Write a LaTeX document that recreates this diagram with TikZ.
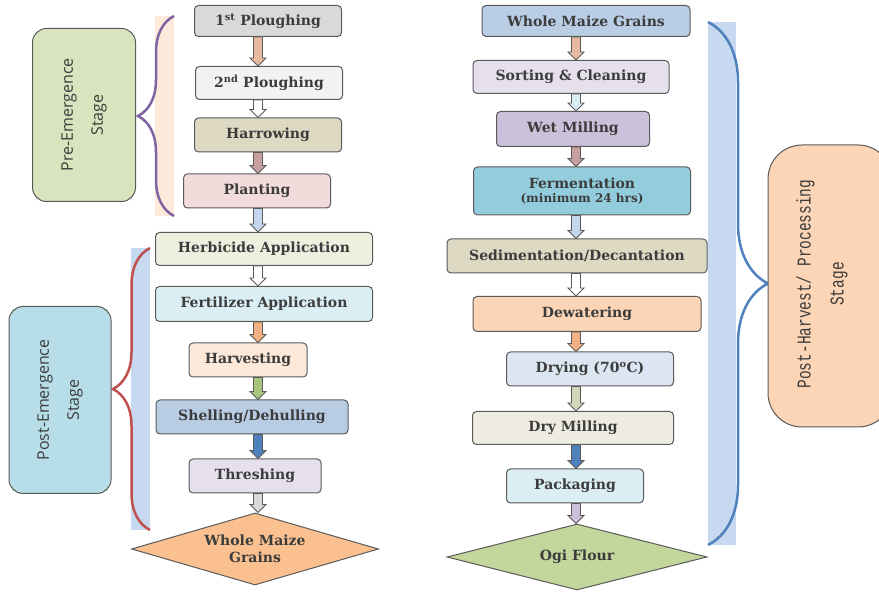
\documentclass[tikz,border=0pt]{standalone}
\usepackage{fontspec}
\setmainfont{DejaVu Serif}
\newfontfamily\stagefont{Open Sans}
\newfontfamily\harvestfont{Liberation Mono}
\usetikzlibrary{shapes.geometric,decorations.pathreplacing,calc}
\definecolor{textgray}{RGB}{60,60,60}
\definecolor{edgegray}{RGB}{90,90,90}
\definecolor{bxgray}{RGB}{217,217,217}
\definecolor{bxwhite}{RGB}{242,242,242}
\definecolor{bxkhaki}{RGB}{221,217,195}
\definecolor{bxpink}{RGB}{242,220,219}
\definecolor{bxlime}{RGB}{235,241,222}
\definecolor{bxaqua}{RGB}{219,238,244}
\definecolor{bxpeach}{RGB}{253,233,217}
\definecolor{bxblue}{RGB}{184,204,228}
\definecolor{bxlilac}{RGB}{229,224,236}
\definecolor{bxorange}{RGB}{250,192,144}
\definecolor{bxsky}{RGB}{185,205,229}
\definecolor{bxpurple}{RGB}{204,193,218}
\definecolor{bxcyan}{RGB}{147,205,221}
\definecolor{bxsalmon}{RGB}{251,213,181}
\definecolor{bxice}{RGB}{220,230,242}
\definecolor{bxbeige}{RGB}{238,236,225}
\definecolor{bxgreen}{RGB}{195,214,155}
\definecolor{stgreen}{RGB}{215,228,189}
\definecolor{stblue}{RGB}{183,221,232}
\definecolor{bracepurple}{RGB}{128,100,162}
\definecolor{bracered}{RGB}{192,80,77}
\definecolor{braceblue}{RGB}{79,129,189}
\definecolor{bandpeach}{RGB}{253,234,218}
\definecolor{bandblue}{RGB}{198,217,241}
\definecolor{artan}{RGB}{230,185,160}
\definecolor{armauve}{RGB}{200,160,160}
\definecolor{arsky}{RGB}{197,213,238}
\definecolor{arorange}{RGB}{244,177,131}
\definecolor{argreen}{RGB}{169,196,127}
\definecolor{arblue}{RGB}{79,129,189}
\definecolor{argray}{RGB}{217,217,217}
\definecolor{arolive}{RGB}{210,214,185}

% hollow block arrow from one box down to the next, on a column coordinate
\newcommand{\flowarrow}[4]{%
  \draw[arrowline, fill=#1] let \p1=(#2.south -| #4), \p2=(#3.north -| #4) in
    (\x1-4.5pt,\y1) -- (\x1+4.5pt,\y1) -- (\x1+4.5pt,\y2+8pt) -- (\x1+8pt,\y2+8pt)
    -- (\x1,\y2) -- (\x1-8pt,\y2+8pt) -- (\x1-4.5pt,\y2+8pt) -- cycle;}
% taller monospace lettering for the processing label
\newcommand{\tallmono}[1]{\scalebox{1}[1.35]{#1}}

\begin{document}
\begin{tikzpicture}[
        x=1pt, y=-1pt,
        stepbox/.style={rectangle, rounded corners=4pt, draw=edgegray, line width=1pt,
          inner sep=0pt, text=textgray, font=\fontsize{14}{16}\selectfont\bfseries, align=center},
        outcome/.style={diamond, draw=edgegray, line width=1pt, inner sep=0pt,
          text=textgray, font=\fontsize{14}{17}\selectfont\bfseries, align=center},
        stagebox/.style={rectangle, rounded corners=14pt, draw=edgegray, line width=1pt,
          rotate=90, align=center, text=textgray, font=\stagefont\fontsize{16}{30}\selectfont},
        stagebrace/.style={decorate, decoration={brace, amplitude=#1}, line width=2.5pt},
        arrowline/.style={draw=edgegray, line width=0.8pt, line join=miter}
      ]
      \useasboundingbox (0,0) rectangle (879,593);

      % Bands behind the braces
      \fill[bandpeach] (155,16) rectangle (174,216);
      \fill[bandblue] (131,248) rectangle (150,530);
      \fill[bandblue] (708,22) rectangle (736,545);

      % Braces
      \draw[stagebrace=36pt, draw=bracepurple] (174,216) -- (174,16);
      \draw[stagebrace=37pt, draw=bracered] (150,530) -- (150,248);
      \draw[stagebrace=60pt, draw=braceblue] (708,22) -- (708,545);

      % Stage labels
      \node[stagebox, fill=stgreen, minimum width=173, minimum height=103] (pre) at (84,115) {Pre-Emergence\\Stage};
      \node[stagebox, fill=stblue, minimum width=187, minimum height=102] (post) at (60,400) {Post-Emergence\\Stage};
      \node[stagebox, fill=bxsalmon, rounded corners=34pt, minimum width=282, minimum height=124] (process) at (830,286) {};
      \node[rotate=90, align=center, text=textgray, font=\harvestfont\fontsize{14.5}{33}\selectfont]
            (processtext) at (822,284) {\tallmono{Post-Harvest/ Processing}\\\tallmono{Stage}};

      % Columns for the arrows
      \coordinate (colL) at (258,0);
      \coordinate (colR) at (576,0);

      % Field stages (left column)
      \node[stepbox, fill=bxgray, minimum width=147, minimum height=31] (plough1) at (268,21) {1\textsuperscript{st} Ploughing};
      \node[stepbox, fill=bxwhite, minimum width=147, minimum height=33] (plough2) at (269,83) {2\textsuperscript{nd} Ploughing};
      \node[stepbox, fill=bxkhaki, minimum width=147, minimum height=34] (harrow) at (268,135) {Harrowing};
      \node[stepbox, fill=bxpink, minimum width=147, minimum height=34] (plant) at (257,191) {Planting};
      \node[stepbox, fill=bxlime, minimum width=217, minimum height=33] (herb) at (264,249) {Herbicide Application};
      \node[stepbox, fill=bxaqua, minimum width=217, minimum height=35] (fert) at (264,304) {Fertilizer Application};
      \node[stepbox, fill=bxpeach, minimum width=118, minimum height=34] (harvest) at (248,360) {Harvesting};
      \node[stepbox, fill=bxblue, minimum width=192, minimum height=34] (shell) at (252,417) {Shelling/Dehulling};
      \node[stepbox, fill=bxlilac, minimum width=132, minimum height=34] (thresh) at (255,476) {Threshing};
      \node[outcome, fill=bxorange, aspect=3.4, minimum width=247, minimum height=72] (grains) at (255,549) {Whole Maize\\Grains};

      % Processing stages (right column)
      \node[stepbox, fill=bxsky, minimum width=208, minimum height=31] (whole) at (586,21) {Whole Maize Grains};
      \node[stepbox, fill=bxlilac, minimum width=196, minimum height=33] (sort) at (571,77) {Sorting \& Cleaning};
      \node[stepbox, fill=bxpurple, minimum width=153, minimum height=35] (wetmill) at (573,129) {Wet Milling};
      \node[stepbox, fill=bxcyan, minimum width=217, minimum height=48] (ferment) at (582,191)
            {Fermentation\\[-2pt]{\fontsize{12}{14}\selectfont (minimum 24 hrs)}};
      \node[stepbox, fill=bxkhaki, minimum width=260, minimum height=34] (sediment) at (577,256) {Sedimentation/Decantation};
      \node[stepbox, fill=bxsalmon, minimum width=228, minimum height=35] (dewater) at (587,314) {Dewatering};
      \node[stepbox, fill=bxice, minimum width=167, minimum height=34] (drying) at (590,369) {Drying (70\textsuperscript{o}C)};
      \node[stepbox, fill=bxbeige, minimum width=201, minimum height=33] (drymill) at (573,428) {Dry Milling};
      \node[stepbox, fill=bxaqua, minimum width=137, minimum height=34] (pack) at (575,486) {Packaging};
      \node[outcome, fill=bxgreen, aspect=3.9, minimum width=260, minimum height=66] (ogi) at (577,557) {Ogi Flour};

      % Arrows, left column
      \flowarrow{artan}{plough1}{plough2}{colL}
      \flowarrow{white}{plough2}{harrow}{colL}
      \flowarrow{armauve}{harrow}{plant}{colL}
      \flowarrow{arsky}{plant}{herb}{colL}
      \flowarrow{white}{herb}{fert}{colL}
      \flowarrow{arorange}{fert}{harvest}{colL}
      \flowarrow{argreen}{harvest}{shell}{colL}
      \flowarrow{arblue}{shell}{thresh}{colL}
      \flowarrow{argray}{thresh}{grains}{colL}

      % Arrows, right column
      \flowarrow{artan}{whole}{sort}{colR}
      \flowarrow{bxaqua}{sort}{wetmill}{colR}
      \flowarrow{armauve}{wetmill}{ferment}{colR}
      \flowarrow{arsky}{ferment}{sediment}{colR}
      \flowarrow{white}{sediment}{dewater}{colR}
      \flowarrow{arorange}{dewater}{drying}{colR}
      \flowarrow{arolive}{drying}{drymill}{colR}
      \flowarrow{arblue}{drymill}{pack}{colR}
      \flowarrow{bxpurple}{pack}{ogi}{colR}

    \end{tikzpicture}
\end{document}
